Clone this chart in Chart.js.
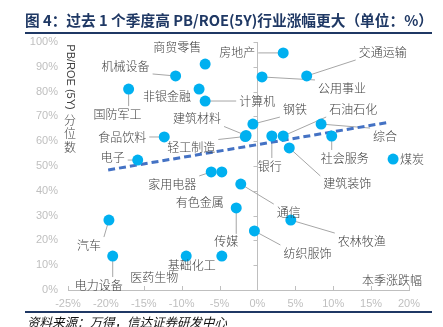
<!DOCTYPE html>
<html>
<head>
<meta charset="utf-8">
<script src="https://cdn.jsdelivr.net/npm/chart.js@4.4.0/dist/chart.umd.min.js"></script>
<style>
  html, body { margin: 0; padding: 0; background: #fff; }
  #wrap { position: relative; width: 443px; height: 327px; overflow: hidden; }
  #chart { position: absolute; left: 0; top: 0; }
  .title { position: absolute; left: 25px; top: 9px; font: bold 14.7px "Noto Sans CJK SC"; color: #1f3864; white-space: nowrap; }
  .rule { position: absolute; left: 25px; width: 407px; background: #1f3864; }
  .source { position: absolute; left: 27px; top: 312px; font: italic 12.5px "Noto Sans CJK SC"; color: #111; white-space: nowrap; }
</style>
</head>
<body>
<div id="wrap">
  <canvas id="chart" width="443" height="327"></canvas>
  <div class="title">图 4：过去 1 个季度高 PB/ROE(5Y)行业涨幅更大（单位：%）</div>
  <div class="rule" style="top:32px;height:2px"></div>
  <div class="rule" style="top:311px;height:1.5px"></div>
  <div class="source">资料来源：万得，信达证券研发中心</div>
</div>
<script>
// industries, quarterly return (%) and PB/ROE(5Y) percentile (%)
var industries = ['国防军工', '电子', '汽车', '电力设备', '机械设备', '商贸零售', '非银金融', '计算机',
    '建筑材料', '轻工制造', '食品饮料', '房地产', '公用事业', '银行', '石油石化', '建筑装饰',
    '交通运输', '综合', '社会服务', '煤炭', '家用电器', '有色金属', '通信', '传媒',
    '纺织服饰', '基础化工', '医药生物', '农林牧渔', '钢铁'];
var returns = [-17.0, -15.8, -19.6, -19.1, -10.8, -6.9, -7.7, -6.9,
    -1.5, -1.6, -12.3, 3.4, 0.6, 1.9, 3.4, 4.2,
    6.5, 8.4, 9.8, 17.9, -6.1, -4.7, -2.2, -2.8,
    -0.4, -4.7, -9.4, 4.4, -0.6];
var percentile = [81.0, 52.4, 28.2, 13.7, 86.3, 91.1, 81.0, 76.2,
    62.3, 61.9, 61.7, 95.6, 85.9, 62.1, 62.1, 57.3,
    86.3, 66.9, 62.1, 52.8, 47.6, 47.6, 42.7, 33.1,
    23.8, 13.7, 13.7, 28.2, 66.9];
var trendX = [-19.7, 17.5];
var trendY = [48.4, 67.7];

// label placement relative to its point: dx, dy (px), leader line?
var labelPos = [[-11, 25, 1], [-25, -3, 1], [-20, 25, 1], [-14, 29, 1], [-50, -10, 1], [-28, -17, 0], [-32, 7, 0], [52, 0, 1],
    [-49, -17, 1], [-54, 11, 1], [-42, 0, 1], [-46, 0, 1], [80, 11, 1], [-2, 30, 1], [70, -27, 1], [58, 36, 1],
    [76, -24, 1], [64, 12, 1], [13, 22, 1], [19, 0, 0], [-39, 12, 1], [-22, 30, 0], [48, 28, 1], [-10, 34, 1],
    [53, 22, 1], [-30, 9, 0], [-32, 21, 1], [71, 21, 1], [42, -15, 1]];

var LABEL_FONT = '300 12px "Noto Sans CJK SC"';

var decorations = {
    id: 'decorations',
    beforeDatasetsDraw: function (chart) {
        var ctx = chart.ctx, x = chart.scales.x, y = chart.scales.y;
        ctx.save();
        ctx.strokeStyle = '#bfbfbf';
        ctx.lineWidth = 1;
        // vertical axis crossing at 0%
        var x0 = Math.round(x.getPixelForValue(0)) + 0.5;
        ctx.beginPath();
        ctx.moveTo(x0, y.top);
        ctx.lineTo(x0, y.bottom);
        for (var v = 0; v <= 100; v += 10) {
            var py = Math.round(y.getPixelForValue(v)) + 0.5;
            ctx.moveTo(x0 - 4, py);
            ctx.lineTo(x0, py);
        }
        // ticks on bottom axis
        for (var t = -25; t <= 20; t += 5) {
            var px = Math.round(x.getPixelForValue(t)) + 0.5;
            ctx.moveTo(px, y.bottom);
            ctx.lineTo(px, y.bottom - 4);
        }
        ctx.stroke();

        // leader lines
        var meta = chart.getDatasetMeta(1);
        ctx.font = LABEL_FONT;
        ctx.strokeStyle = '#a6a6a6';
        meta.data.forEach(function (pt, i) {
            var p = labelPos[i];
            if (!p[2]) return;
            var lx = pt.x + p[0], ly = pt.y + p[1];
            var w = ctx.measureText(industries[i]).width;
            var bx = Math.max(lx - w / 2 - 3, Math.min(pt.x, lx + w / 2 + 3));
            var by = Math.max(ly - 8, Math.min(pt.y, ly + 8));
            ctx.beginPath();
            ctx.moveTo(pt.x, pt.y);
            ctx.lineTo(bx, by);
            ctx.stroke();
        });
        ctx.restore();
    },
    afterDatasetsDraw: function (chart) {
        var ctx = chart.ctx, x = chart.scales.x, y = chart.scales.y;
        var meta = chart.getDatasetMeta(1);
        ctx.save();
        ctx.font = LABEL_FONT;
        ctx.fillStyle = '#404040';
        ctx.textAlign = 'center';
        ctx.textBaseline = 'middle';
        meta.data.forEach(function (pt, i) {
            var p = labelPos[i];
            ctx.fillText(industries[i], pt.x + p[0], pt.y + p[1]);
        });

        // axis titles
        ctx.fillStyle = '#404040';
        ctx.textAlign = 'right';
        ctx.fillText('本季涨跌幅', x.right + 13, y.bottom - 10);
        ctx.save();
        ctx.translate(x.left + 2, 77);
        ctx.rotate(Math.PI / 2);
        ctx.font = '11px "Liberation Sans", Arial';
        ctx.textAlign = 'center';
        ctx.fillText('PB/ROE (5Y)', 0, 0);
        ctx.restore();
        ctx.textAlign = 'center';
        ['分', '位', '数'].forEach(function (c, k) {
            ctx.fillText(c, x.left + 2, 120 + k * 13.5);
        });
        ctx.restore();
    }
};

var ctx = document.getElementById('chart').getContext('2d');
var myChart = new Chart(ctx, {
    type: 'scatter',
    data: {
        datasets: [{
            type: 'line',
            data: trendX.map(function (v, i) { return { x: v, y: trendY[i] }; }),
            borderColor: '#4472c4',
            borderWidth: 3,
            borderDash: [7, 4],
            pointRadius: 0,
            fill: false,
            order: 1
        }, {
            data: returns.map(function (v, i) { return { x: v, y: percentile[i] }; }),
            backgroundColor: '#00b0f0',
            borderWidth: 0,
            pointRadius: 5.5,
            order: 0
        }]
    },
    options: {
        responsive: false,
        animation: false,
        layout: { padding: { left: 0, right: 34, top: 42, bottom: 15 } },
        plugins: { legend: { display: false }, tooltip: { enabled: false } },
        scales: {
            x: {
                type: 'linear',
                min: -25, max: 20,
                afterFit: function (s) { s.height = 22; },
                grid: { display: false, drawTicks: false },
                border: { display: true, color: '#bfbfbf', width: 1 },
                ticks: {
                    stepSize: 5, padding: 7, color: '#bfbfbf',
                    font: { family: '"Liberation Sans", Arial', size: 11 },
                    callback: function (v) { return v + '%'; }
                }
            },
            y: {
                min: 0, max: 100,
                afterFit: function (s) { s.width = 68; },
                grid: { display: false, drawTicks: false },
                border: { display: false },
                ticks: {
                    stepSize: 10, padding: 10, color: '#bfbfbf',
                    font: { family: '"Liberation Sans", Arial', size: 11 },
                    callback: function (v) { return v + '%'; }
                }
            }
        }
    },
    plugins: [decorations]
});
</script>
</body>
</html>
